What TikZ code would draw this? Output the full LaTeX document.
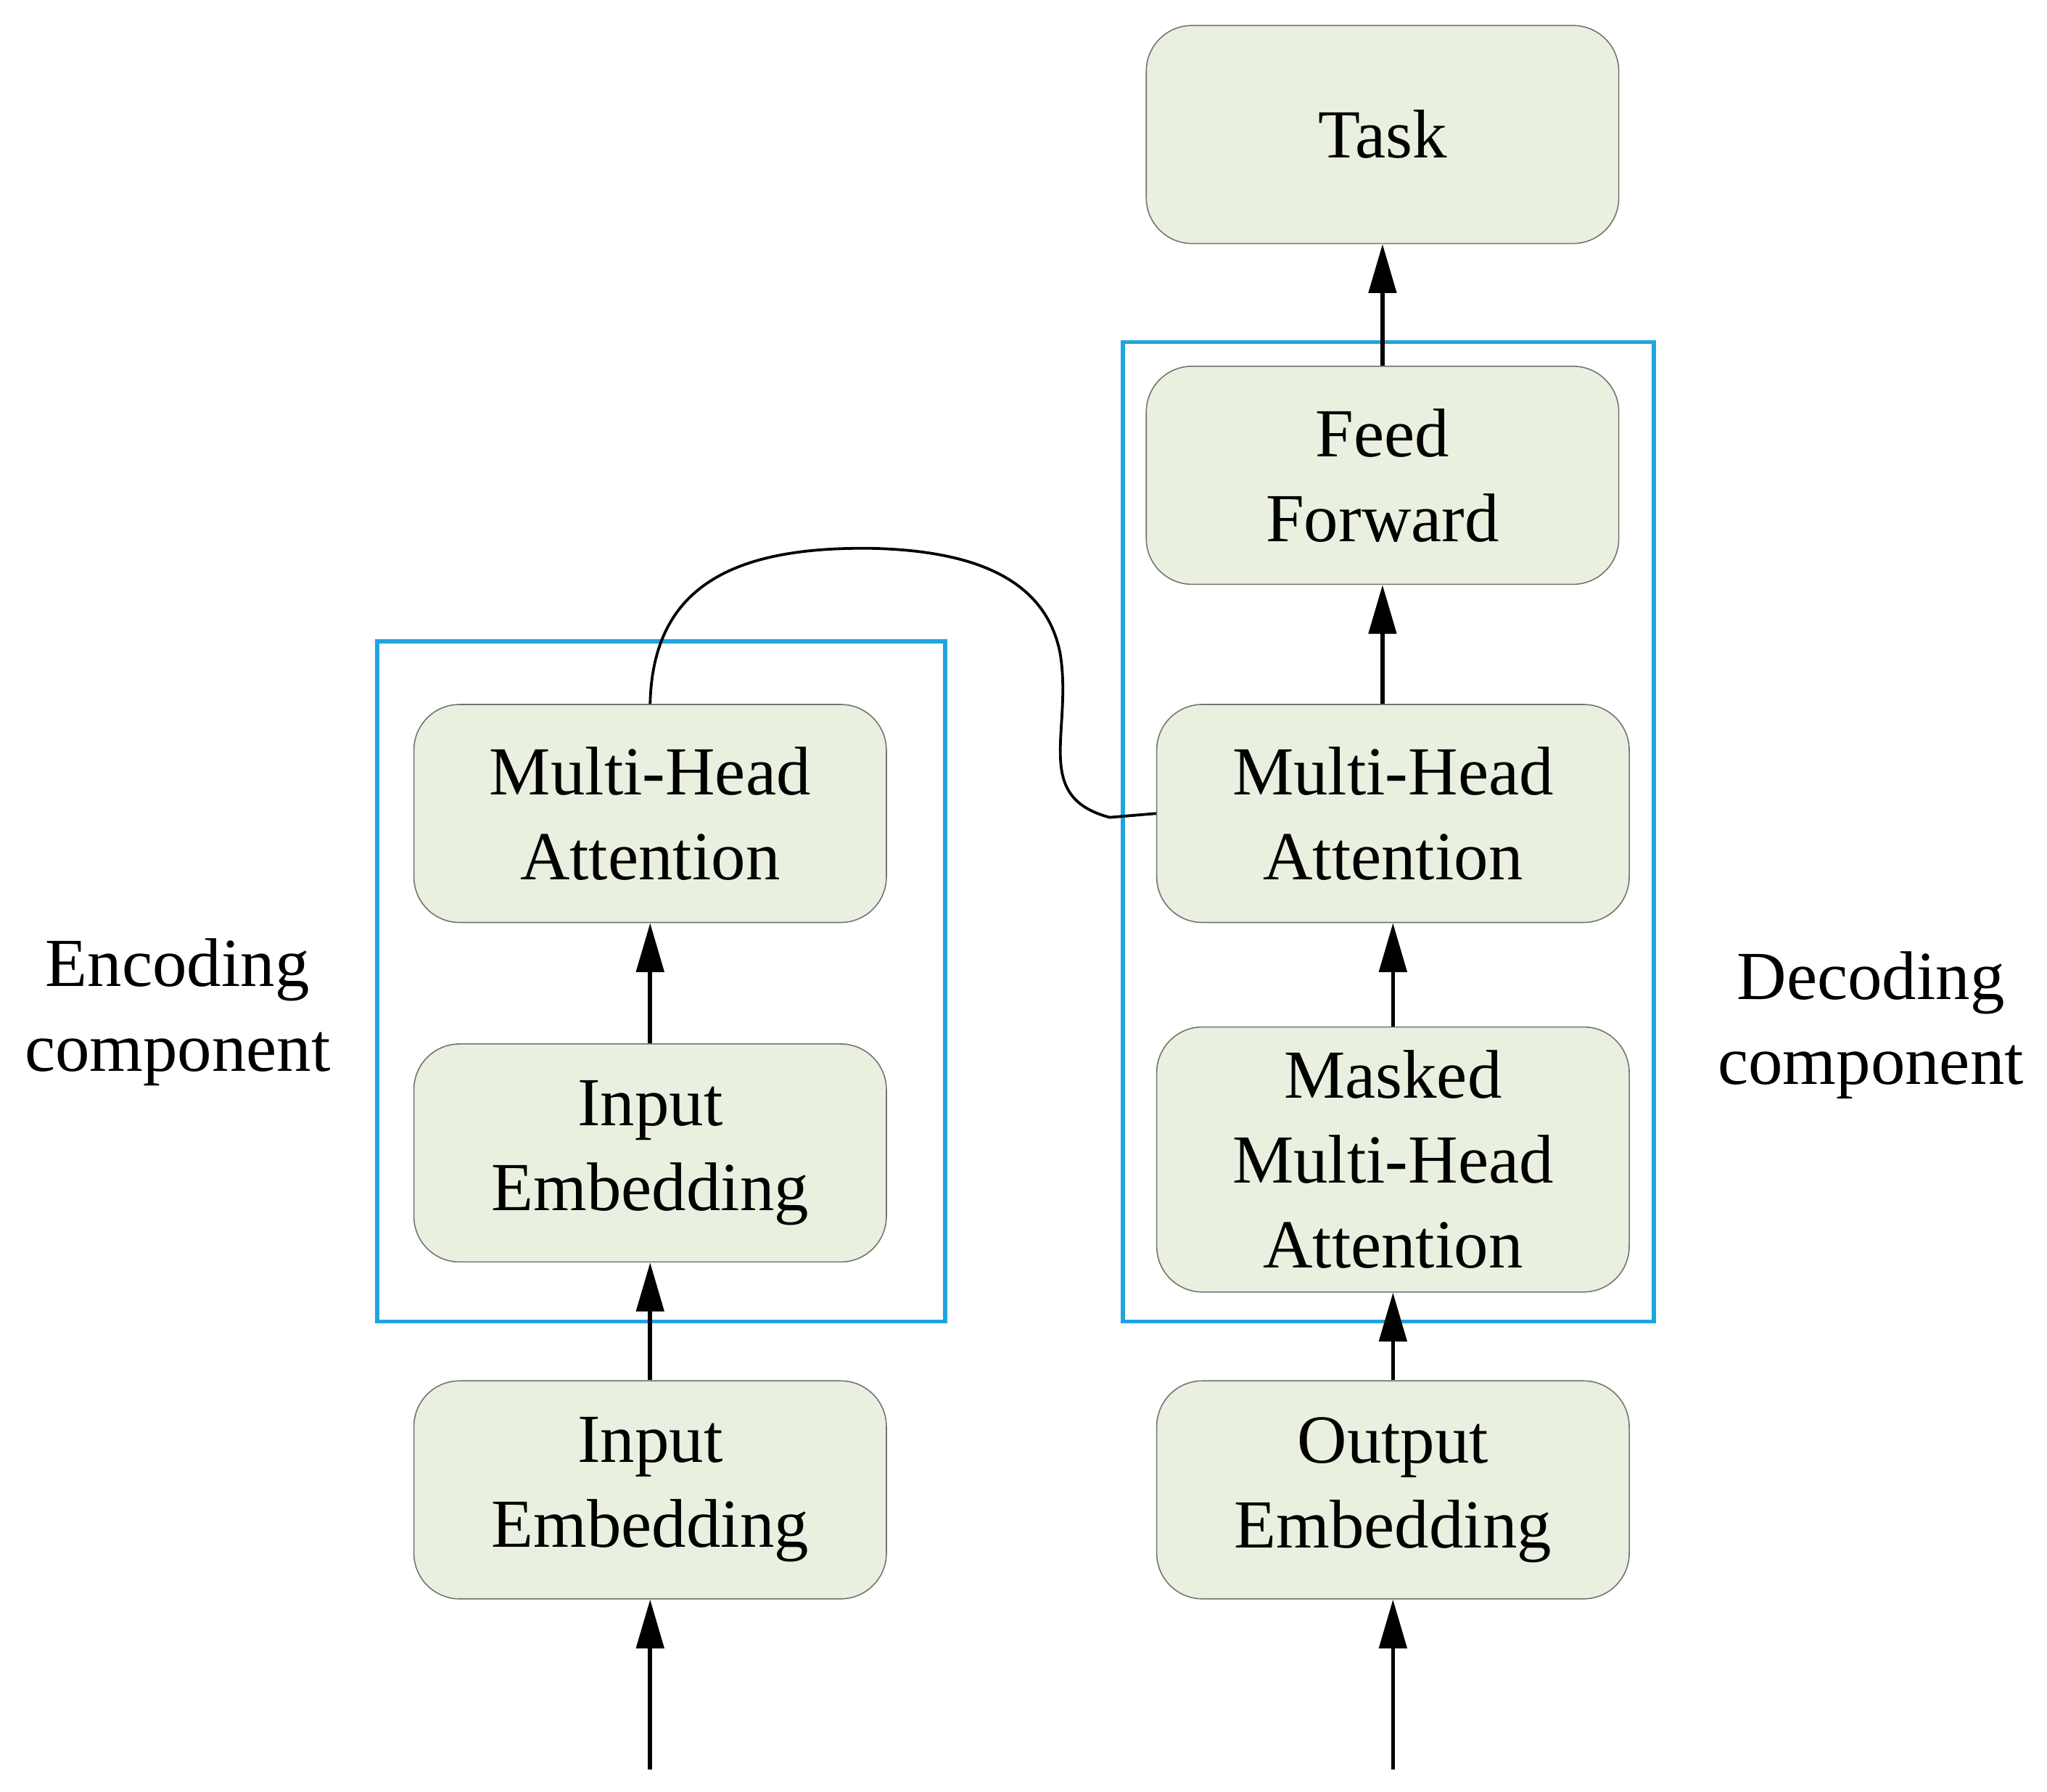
\documentclass[tikz,border=0pt]{standalone}
\usepackage{fontspec}
\setmainfont{Liberation Serif}
\usetikzlibrary{arrows.meta}
\begin{document}
\begin{tikzpicture}[x=0.02cm,y=-0.02cm,
  box/.style={draw=black!55,line width=0.5pt,fill=boxfill,rounded corners=0.7cm,minimum width=7.24cm,minimum height=3.34cm,align=center,font=\fontsize{30}{37}\selectfont,inner sep=0pt},
  lab/.style={align=center,font=\fontsize{30}{37}\selectfont},
  arr/.style={line width=1.8pt,-{Triangle[length=0.75cm,width=0.42cm]}},
  frame/.style={draw=framecol,line width=1.8pt}]
\definecolor{boxfill}{HTML}{EAF0DF}
\definecolor{framecol}{HTML}{1EA5E0}
\useasboundingbox (0,0) rectangle (1568,1372);
\draw[frame] (289,491) rectangle (724,1012);
\draw[frame] (860,262) rectangle (1267,1012);
\node[box] (task) at (1059,103) {Task};
\node[box] (ff) at (1059,364) {Feed\\Forward};
\node[box] (dmha) at (1067,623) {Multi-Head\\Attention};
\node[box,minimum height=4.06cm] (mask) at (1067,888) {Masked\\Multi-Head\\Attention};
\node[box] (oemb) at (1067,1141) {Output\\Embedding};
\node[box] (emha) at (498,623) {Multi-Head\\Attention};
\node[box] (ie2) at (498,883) {Input\\Embedding};
\node[box] (ie1) at (498,1141) {Input\\Embedding};
\node[lab] (enc) at (136,775) {Encoding\\component};
\node[lab] (dec) at (1433,785) {Decoding\\component};
\coordinate (in1) at (498,1355);
\coordinate (in2) at (1067,1355);
\draw[arr] (in1) -- (ie1.south);
\draw[arr] (in2) -- (oemb.south);
\draw[arr] (ie1.north) -- (ie2.south);
\draw[arr] (ie2.north) -- (emha.south);
\draw[arr] (oemb.north) -- (mask.south);
\draw[arr] (mask.north) -- (dmha.south);
\draw[arr] (dmha.north -| ff.south) -- (ff.south);
\draw[arr] (ff.north) -- (task.south);
\draw[line width=1.2pt] (emha.north) .. controls (500,450) and (560,418) .. (670,420)
  .. controls (740,422) and (800,440) .. (812,500)
  .. controls (822,560) and (790,610) .. (850,626) -- (dmha.west);
\end{tikzpicture}
\end{document}
